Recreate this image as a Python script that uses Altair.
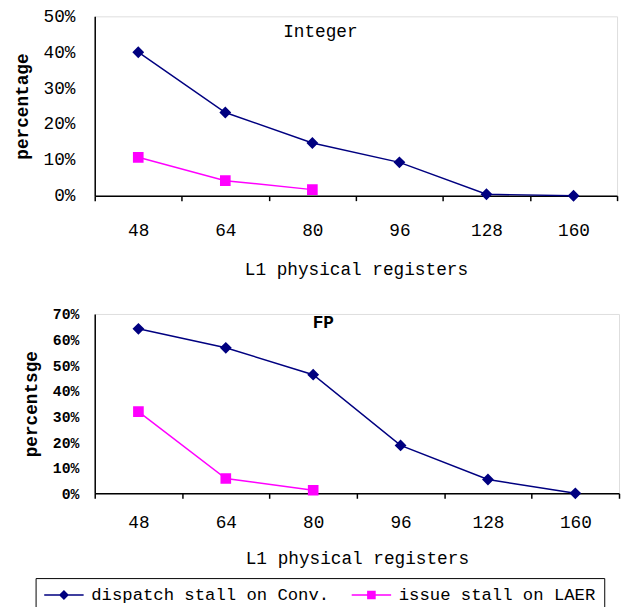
import altair as alt
import pandas as pd

regs = ["48", "64", "80", "96", "128", "160"]
series = ["dispatch stall on Conv.", "issue stall on LAER"]
colors = ["#000080", "#FF00FF"]

int_conv = [0.400, 0.232, 0.147, 0.093, 0.004, 0.0]
int_laer = [0.107, 0.042, 0.017]
fp_conv = [0.642, 0.568, 0.463, 0.187, 0.054, 0.0]
fp_laer = [0.319, 0.058, 0.012]

FONT = "Liberation Mono"

def frame(conv, laer):
    rows = [{"reg": r, "s": series[0], "v": v} for r, v in zip(regs, conv)]
    rows += [{"reg": r, "s": series[1], "v": v} for r, v in zip(regs, laer)]
    return pd.DataFrame(rows)

diamond = "M0,-1L1,0L0,1L-1,0Z M-5,0H5"
square = "M-0.9,-0.9H0.9V0.9H-0.9Z M-5,0H5"

cscale = alt.Scale(domain=series, range=colors)
sscale = alt.Scale(domain=series, range=[diamond, square])
legend = alt.Legend(
    title=None, orient="none", direction="horizontal",
    legendX=-60, legendY=570,
    strokeColor="black", padding=8, columnPadding=18, labelLimit=400,
    labelFont=FONT, labelFontSize=17.5, labelColor="black",
    symbolSize=64, symbolStrokeWidth=1.5, symbolOffset=12, labelOffset=19)


def panel(df, ymax, title, tx, ty, tweight, ytitle, ylab_size, ylab_weight, ylab_pad,
          width, height, xlab_pad, xtitle_pad):
    xax = alt.Axis(title="L1 physical registers", labelAngle=0, tickBand="extent",
                   grid=False, domainColor="black", domainWidth=1.5,
                   tickColor="black", tickWidth=1.5, tickSize=5,
                   labelFont=FONT, labelFontSize=18, labelColor="black", labelPadding=xlab_pad,
                   titleFont=FONT, titleFontSize=18, titleFontWeight="normal",
                   titleColor="black", titlePadding=xtitle_pad)
    yax = alt.Axis(title=ytitle, format=".0%",
                   values=[i / 10 for i in range(int(round(ymax * 10)) + 1)],
                   grid=False, ticks=False, domainColor="black", domainWidth=1.5,
                   labelFont=FONT, labelFontSize=ylab_size, labelFontWeight=ylab_weight,
                   labelColor="black", labelPadding=ylab_pad,
                   titleFont=FONT, titleFontSize=18, titleFontWeight="bold",
                   titleColor="black", titlePadding=12)
    x = alt.X("reg:O", sort=regs, scale=alt.Scale(domain=regs, paddingInner=0, paddingOuter=0), axis=xax)
    y = alt.Y("v:Q", scale=alt.Scale(domain=[0, ymax], nice=False), axis=yax)
    base = alt.Chart(df)
    line = base.mark_line(strokeWidth=1.5).encode(
        x=x, y=y, stroke=alt.Stroke("s:N", scale=cscale, legend=legend), detail="s:N")
    pts = base.mark_point(filled=True, size=144, opacity=1).encode(
        x=x, y=y, fill=alt.Fill("s:N", scale=cscale, legend=legend),
        shape=alt.Shape("s:N", scale=sscale, legend=legend))
    label = alt.Chart(pd.DataFrame({"t": [title]})).mark_text(
        font=FONT, fontSize=18, fontWeight=tweight, color="black", baseline="top", align="center"
    ).encode(text="t:N", x=alt.value(tx), y=alt.value(ty))
    return alt.layer(line, pts, label).properties(width=width, height=height)

top = panel(frame(int_conv, int_laer), 0.5, "Integer", 229, 7, "normal", "percentage",
            18, "normal", 20, 530, 182, 21, 22)
bot = panel(frame(fp_conv, fp_laer), 0.7, "FP", 232, 0, "bold", "percentsge",
            15, "bold", 16, 532, 182, 16, 18)

chart = alt.vconcat(top, bot, spacing=27).properties(
    padding={"left": 5, "top": -6, "right": 0, "bottom": 0}
).configure_view(stroke=None).configure(background="white")

chart.save("out.html", embed_options={"renderer": "svg", "actions": False})
